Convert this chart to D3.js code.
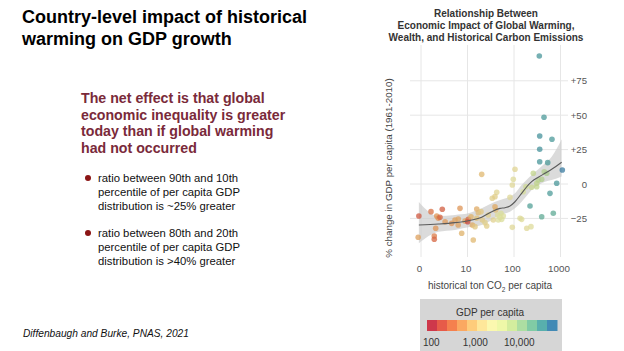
<!DOCTYPE html>
<html>
<head>
<meta charset="utf-8">
<script src="https://cdn.jsdelivr.net/npm/d3@7"></script>
<style>
  html, body { margin: 0; padding: 0; background: #ffffff; }
  svg { display: block; font-family: "Liberation Sans", Arial, Helvetica, sans-serif; }
</style>
</head>
<body>
<svg id="chart" width="624" height="351"></svg>
<script>
// ---------- DATA ----------
const slideTitle = ["Country-level impact of historical", "warming on GDP growth"];
const keyMessage = ["The net effect is that global", "economic inequality is greater", "today than if global warming", "had not occurred"];
const bullets = [
  ["ratio between 90th and 10th", "percentile of per capita GDP", "distribution is ~25% greater"],
  ["ratio between 80th and 20th", "percentile of per capita GDP", "distribution is >40% greater"]
];
const citation = "Diffenbaugh and Burke, PNAS, 2021";
const chartTitle = ["Relationship Between", "Economic Impact of Global Warming,", "Wealth, and Historical Carbon Emissions"];
const yTitle = "% change in GDP per capita (1961-2010)";
const legendTitle = "GDP per capita";

// countries: historical ton CO2 per capita, % change in GDP per capita, GDP per capita (US$)
const co2 = [0.9, 0.87, 1.64, 2.18, 2.36, 2.56, 2.87, 2.07, 1.93, 1.93,
  4.57, 5.38, 6.34, 6.9, 7.5, 8.84, 10.1, 10.4, 12.7, 13.3,
  14.5, 15.8, 17.1, 19.5, 20.8, 23.8, 25.9, 20.2, 34.1, 35.9,
  40.4, 42.5, 44.6, 50, 54.4, 58.9, 39, 91.9, 91.9, 96.6,
  105, 82, 135, 146, 188, 232, 221, 240, 308, 333,
  394, 448, 505, 594, 700, 828, 394, 260, 181, 158,
  1094, 357, 357, 531, 350, 442, 357, 656,
  15.8, 28, 46, 52.5, 11.9, 6.3, 3.3, 39, 308];
const gdpChange = [-23.3, -38.7, -20.1, -23.3, -24.9, -24.2, -18.4, -32.2, -37.8, -40.2,
  -28.6, -26.2, -25.4, -17.7, -35.8, -26.9, -27.4, -25.7, -29.8, -40.7,
  -31.0, -18.2, -20.9, -20.1, -26.2, -28.1, -30.5, 7.0, -10.4, -26.2,
  -18.9, -6.0, -22.5, -24.2, -25.7, -23.3, -16.5, -31.5, -0.7, 3.4,
  10.7, -9.7, -24.9, -25.7, -32.2, -31.0, -16.0, -2.4, 0.5, 2.9,
  3.4, 8.9, 7.8, -6.8, -21.3, 0.5, -23.8, 7.8, -2.0, -5.6,
  10.2, 25.2, 16.2, 15.5, 93, 48.5, 34.9, 32.5,
  -24.9, -22.5, -26.2, -21.3, -23.8, -29.8, -27.4, -9.2, -2.0];
const gdpPerCapita = [200, 600, 300, 500, 450, 250, 220, 500, 350, 250,
  500, 600, 650, 500, 800, 600, 150, 250, 700, 900,
  1200, 700, 900, 1200, 1300, 1500, 1400, 900, 1500, 1600,
  1000, 1800, 2500, 3000, 3000, 2800, 700, 2000, 2000, 2200,
  1800, 2000, 2200, 2400, 2000, 2500, 30000, 5000, 6000, 7000,
  8000, 8000, 9000, 32000, 25000, 35000, 25000, 6000, 4500, 3500,
  55000, 38000, 36000, 33000, 36000, 34000, 38000, 34000,
  1100, 1500, 2800, 3000, 800, 600, 550, 1400, 6000];

// smoothed fit with confidence band
const fitX  = [0.9, 2.36, 5.38, 10.4, 20.2, 33.2, 50, 64, 82, 105, 146, 188, 240, 333, 464, 646, 1060];
const fitY  = [-29.8, -29.1, -28.1, -26.7, -24.2, -20.1, -17.7, -17.2, -16.0, -12.9, -6.8, -2.0, 1.7, 4.9, 7.8, 10.7, 15.8];
const fitLo = [-43, -34.7, -33.4, -31.5, -29.8, -26.2, -22.5, -21.5, -20.1, -17.7, -12.9, -8.5, -4.4, -0.7, 1.7, 2.9, 5.5];
const fitHi = [-13, -23.3, -22.5, -21.3, -17.7, -14.0, -11.6, -10.5, -9.2, -6.8, -0.7, 3.0, 6.5, 10.7, 15.0, 19.8, 32.5];

const xTicks = [1, 10, 100, 1000];
const xTickLabels = ["0", "10", "100", "1000"];
const yTicks = [-25, 0, 25, 50, 75];
const yTickLabels = ["\u221225", "0", "+25", "+50", "+75"];
const legendTicks = [100, 1000, 10000];
const legendLabels = ["100", "1,000", "10,000"];
const legendSteps = 13;

// ---------- DRAW ----------
const svg = d3.select("#chart");

// left text
svg.append("g").selectAll("text").data(slideTitle).join("text")
  .attr("x", 22).attr("y", (d, i) => 23 + i * 22)
  .attr("font-size", 18).attr("font-weight", "bold").attr("fill", "#000")
  .text(d => d);

svg.append("g").selectAll("text").data(keyMessage).join("text")
  .attr("x", 81).attr("y", (d, i) => 103 + i * 16.5)
  .attr("font-size", 14.2).attr("font-weight", "bold").attr("fill", "#7a2a3a")
  .text(d => d);

const bulletTop = [182, 237];
bullets.forEach((lines, b) => {
  svg.append("circle").attr("cx", 88).attr("cy", bulletTop[b] - 4).attr("r", 3).attr("fill", "#8b1515");
  svg.append("g").selectAll("text").data(lines).join("text")
    .attr("x", 98).attr("y", (d, i) => bulletTop[b] + i * 13.8)
    .attr("font-size", 11.3).attr("fill", "#111")
    .text(d => d);
});

svg.append("text").attr("x", 23).attr("y", 337)
  .attr("font-size", 10.2).attr("font-style", "italic").attr("fill", "#111")
  .text(citation);

// chart
const plotL = 410, plotR = 568, plotT = 45, plotB = 257;
const x = d3.scaleLog().domain([1, 1000]).range([421, 560.5]);
const y = d3.scaleLinear().domain([-25, 75]).range([218.4, 80.8]);

const legendScale = d3.scaleLog().domain([80, 72000]).range([427, 557]);
const colorT = d3.scaleLog().domain([80, 72000]).range([0.06, 0.93]).clamp(true);
const color = v => d3.interpolateSpectral(colorT(v));
const pointColor = v => d3.color(color(v)).darker(0.35).formatHex();

svg.append("g").selectAll("text").data(chartTitle).join("text")
  .attr("x", 486).attr("y", (d, i) => 17 + i * 11.8)
  .attr("text-anchor", "middle").attr("font-size", 10).attr("font-weight", "bold").attr("fill", "#333")
  .text(d => d);

// grid
const grid = svg.append("g").attr("stroke", "#e6e6e6").attr("stroke-width", 1);
grid.selectAll("line.h").data(yTicks).join("line").attr("class", "h")
  .attr("x1", plotL).attr("x2", plotR).attr("y1", d => y(d)).attr("y2", d => y(d));
grid.selectAll("line.v").data(xTicks).join("line").attr("class", "v")
  .attr("x1", d => x(d)).attr("x2", d => x(d)).attr("y1", plotT).attr("y2", plotB);

// axes (labels only)
const yAxis = d3.axisRight(y).tickValues(yTicks).tickSize(0).tickFormat((d, i) => yTickLabels[i]);
const gy = svg.append("g").attr("transform", "translate(577,0)").call(yAxis);
gy.select(".domain").remove();
gy.selectAll("text").attr("x", 10).attr("text-anchor", "end").attr("font-size", 9.6)
  .attr("fill", "#555").attr("font-family", "Liberation Sans, Arial, sans-serif");

const xAxis = d3.axisBottom(x).tickValues(xTicks).tickSize(0).tickFormat((d, i) => xTickLabels[i]);
const gx = svg.append("g").attr("transform", "translate(-2,262)").call(xAxis);
gx.select(".domain").remove();
gx.selectAll("text").attr("y", 3).attr("font-size", 9.8)
  .attr("fill", "#555").attr("font-family", "Liberation Sans, Arial, sans-serif");

// y title
svg.append("text").attr("transform", "translate(392,168) rotate(-90)")
  .attr("text-anchor", "middle").attr("font-size", 9.8).attr("fill", "#444")
  .text(yTitle);

// x title with subscript
const xt = svg.append("text").attr("x", 490).attr("y", 289)
  .attr("text-anchor", "middle").attr("font-size", 10).attr("fill", "#444");
xt.append("tspan").text("historical ton CO");
xt.append("tspan").attr("font-size", 6.5).attr("dy", 2.5).text("2");
xt.append("tspan").attr("dy", -2.5).text(" per capita");

// confidence band
const idx = d3.range(fitX.length);
const area = d3.area().x(i => x(fitX[i])).y0(i => y(fitLo[i])).y1(i => y(fitHi[i])).curve(d3.curveMonotoneX);
svg.append("path").datum(idx).attr("d", area).attr("fill", "#cccccc").attr("fill-opacity", 0.7);

// points
const pts = d3.range(co2.length);
svg.append("g").selectAll("circle").data(pts).join("circle")
  .attr("cx", i => x(co2[i])).attr("cy", i => y(gdpChange[i])).attr("r", 2.8)
  .attr("fill", i => pointColor(gdpPerCapita[i])).attr("fill-opacity", 0.75);

// fit line
const line = d3.line().x(i => x(fitX[i])).y(i => y(fitY[i])).curve(d3.curveMonotoneX);
svg.append("path").datum(idx).attr("d", line).attr("fill", "none").attr("stroke", "#5a5a5a").attr("stroke-width", 1.1);

// legend
svg.append("rect").attr("x", 420).attr("y", 299).attr("width", 142).attr("height", 52).attr("fill", "#d6d6d6");
svg.append("text").attr("x", 490).attr("y", 316).attr("text-anchor", "middle")
  .attr("font-size", 10).attr("fill", "#333").text(legendTitle);
const [l0, l1] = legendScale.range();
const stepW = (l1 - l0) / legendSteps;
svg.append("g").selectAll("rect").data(d3.range(legendSteps)).join("rect")
  .attr("x", k => l0 + k * stepW).attr("y", 320).attr("width", stepW + 0.5).attr("height", 11)
  .attr("fill", k => color(legendScale.invert(l0 + (k + 0.5) * stepW)));
svg.append("g").selectAll("text").data(legendTicks).join("text")
  .attr("x", d => legendScale(d)).attr("y", 346).attr("text-anchor", "middle")
  .attr("font-size", 10).attr("fill", "#333")
  .text((d, i) => legendLabels[i]);
</script>
</body>
</html>
